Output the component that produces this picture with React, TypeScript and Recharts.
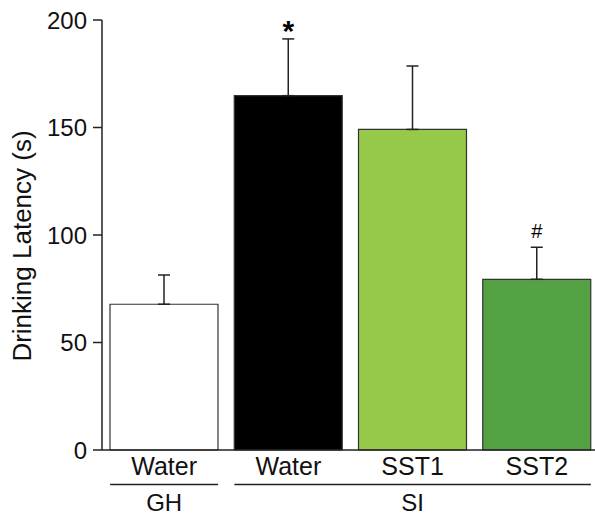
import { BarChart, Bar, XAxis, YAxis, ErrorBar, Cell, LabelList } from 'recharts';

const groups = ['GH', 'SI', 'SI', 'SI'];
const treatments = ['Water', 'Water', 'SST1', 'SST2'];
const latency = [67.8, 164.8, 149.1, 79.4];
const sem = [13.6, 26.4, 29.5, 14.9];
const marks = ['', '*', '', '#'];
const fills = ['#ffffff', '#000000', '#96c84a', '#55a245'];
const yTicks = [0, 50, 100, 150, 200];

const data = treatments.map((t, i) => ({
  key: `${groups[i]}-${t}`,
  treatment: t,
  group: groups[i],
  latency: latency[i],
  sem: sem[i],
  err: [0, sem[i]],
  mark: marks[i],
}));

const W = 600;
const H = 516;
const M = { top: 20, right: 1, bottom: 0, left: 0 };
const Y_W = 102;
const X_H = 66;
const BAR = 108;
const BAND = (W - M.left - M.right - Y_W) / data.length;
const FONT = 'Liberation Sans, Arial, Helvetica, sans-serif';
const INK = '#222';

function GroupTick(props: any) {
  const { x, y, payload } = props;
  const i = props.index ?? payload.index;
  const d = data[i];
  const first = i === 0 || groups[i - 1] !== groups[i];
  let n = 0;
  if (first) {
    while (i + n < groups.length && groups[i + n] === groups[i]) n++;
  }
  const x0 = x - BAR / 2;
  const x1 = x + (n - 1) * BAND + BAR / 2;
  return (
    <g>
      <text x={x} y={y + 25} textAnchor="middle" fontSize={25} fontFamily={FONT} fill="#111">
        {d.treatment}
      </text>
      {first && (
        <>
          <line x1={x0} x2={x1} y1={y + 34.5} y2={y + 34.5} stroke={INK} strokeWidth={1.5} />
          <text x={(x0 + x1) / 2} y={y + 61} textAnchor="middle" fontSize={24} fontFamily={FONT} fill="#111">
            {d.group}
          </text>
        </>
      )}
    </g>
  );
}

function YTitle(props: any) {
  const vb = props.viewBox || { x: 0, y: M.top, height: 430 };
  const cx = vb.x + 22;
  const cy = vb.y + vb.height / 2 + 11;
  return (
    <text
      x={cx}
      y={cy}
      transform={`rotate(-90 ${cx} ${cy})`}
      textAnchor="middle"
      dominantBaseline="central"
      fontSize={26}
      fontFamily={FONT}
      fill="#111"
    >
      Drinking Latency (s)
    </text>
  );
}

function MarkLabel(props: any) {
  const { x, y, width, height, value, index } = props;
  if (!value) return null;
  const d = data[index];
  const errTop = y - (height * d.sem) / d.latency;
  const cx = x + width / 2;
  if (value === '*') {
    return (
      <text x={cx} y={errTop + 2} textAnchor="middle" fontSize={30} fontWeight="bold" fontFamily={FONT} fill="#000">
        *
      </text>
    );
  }
  return (
    <text x={cx} y={errTop - 9} textAnchor="middle" fontSize={20} fontFamily={FONT} fill="#000">
      {value}
    </text>
  );
}

export default function App() {
  return (
    <div style={{ position: 'absolute', left: 0, top: 0, width: 595, height: 516, overflow: 'hidden', background: '#fff' }}>
      <BarChart width={W} height={H} data={data} margin={M}>
        <XAxis
          dataKey="key"
          height={X_H}
          tickLine={false}
          tickSize={0}
          tickMargin={0}
          axisLine={{ stroke: INK, strokeWidth: 1.5 }}
          tick={<GroupTick />}
          interval={0}
        />
        <YAxis
          width={Y_W}
          domain={[0, 200]}
          ticks={yTicks}
          tickSize={9}
          tickMargin={6}
          axisLine={{ stroke: INK, strokeWidth: 1.5 }}
          tickLine={{ stroke: INK, strokeWidth: 1.5 }}
          tick={{ fontSize: 24, fontFamily: FONT, fill: '#111' }}
          label={<YTitle />}
        />
        <Bar dataKey="latency" barSize={BAR} stroke="#333" strokeWidth={1.2} isAnimationActive={false}>
          {data.map((d, i) => (
            <Cell key={d.key} fill={fills[i]} />
          ))}
          <ErrorBar dataKey="err" width={6} stroke={INK} strokeWidth={1.5} direction="y" />
          <LabelList dataKey="mark" content={<MarkLabel />} />
        </Bar>
      </BarChart>
    </div>
  );
}
